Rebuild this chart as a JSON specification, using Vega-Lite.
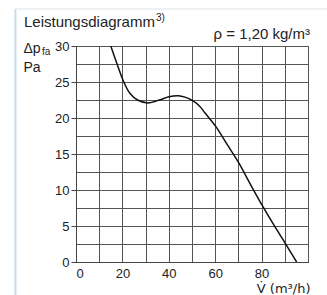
{
  "$schema": "https://vega.github.io/schema/vega-lite/v6.json",
  "width": 232,
  "height": 216,
  "autosize": "none",
  "padding": {"left": 76, "top": 46, "right": 19, "bottom": 33},
  "background": "white",
  "config": {
    "font": "Liberation Sans",
    "view": {"stroke": "#444", "strokeWidth": 1},
    "axis": {
      "grid": true,
      "gridColor": "#555",
      "gridWidth": 1,
      "gridOpacity": 1,
      "domain": true,
      "domainColor": "#444",
      "labelFontSize": 13,
      "labelColor": "#222",
      "labelOverlap": false,
      "titleFontSize": 14,
      "titleFontWeight": "normal",
      "titleColor": "#222"
    }
  },
  "layer": [
    {
      "data": {
        "values": [
          {"q": 15.0, "dp": 30},
          {"q": 17.7, "dp": 27.5},
          {"q": 20.6, "dp": 25},
          {"q": 23.3, "dp": 23.4},
          {"q": 26.5, "dp": 22.5},
          {"q": 31.0, "dp": 22.1},
          {"q": 36.0, "dp": 22.5},
          {"q": 40.0, "dp": 22.95},
          {"q": 44.1, "dp": 23.1},
          {"q": 47.0, "dp": 22.9},
          {"q": 50.3, "dp": 22.4},
          {"q": 53.4, "dp": 21.6},
          {"q": 55.6, "dp": 20.7},
          {"q": 60.3, "dp": 18.8},
          {"q": 65.0, "dp": 16.4},
          {"q": 70.3, "dp": 13.7},
          {"q": 75.0, "dp": 10.9},
          {"q": 80.2, "dp": 7.9},
          {"q": 85.0, "dp": 5.3},
          {"q": 90.2, "dp": 2.6},
          {"q": 95.1, "dp": 0}
        ]
      },
      "mark": {"type": "line", "color": "#111", "strokeWidth": 1.5, "interpolate": "catmull-rom", "clip": true},
      "encoding": {
        "x": {
          "field": "q", "type": "quantitative",
          "scale": {"domain": [0, 100], "nice": false, "zero": false},
          "axis": {
            "values": [0, 10, 20, 30, 40, 50, 60, 70, 80, 90, 100],
            "labelExpr": "datum.value % 20 == 0 && datum.value < 100 ? datum.label : ''",
            "ticks": false,
            "labelPadding": 5,
            "title": "V̇ (m³/h)",
            "titleFont": "DejaVu Sans",
            "titleFontSize": 13,
            "titleAnchor": "end",
            "titleAlign": "right",
            "titleBaseline": "alphabetic",
            "titleX": 234,
            "titleY": 30
          }
        },
        "y": {
          "field": "dp", "type": "quantitative",
          "scale": {"domain": [0, 30], "nice": false, "zero": false},
          "axis": {
            "values": [0, 2.5, 5, 7.5, 10, 12.5, 15, 17.5, 20, 22.5, 25, 27.5, 30],
            "labelExpr": "datum.value % 5 == 0 ? datum.label : ''",
            "ticks": true,
            "tickSize": 5,
            "tickColor": {"condition": {"test": "datum.value % 5 == 0", "value": "#444"}, "value": "transparent"},
            "labelPadding": 2,
            "title": ["Δp", "Pa"],
            "titleAngle": 0,
            "titleAlign": "left",
            "titleBaseline": "alphabetic",
            "titleLineHeight": 19,
            "titleX": -53,
            "titleY": 6
          }
        }
      }
    },
    {
      "data": {"values": [{"label": "fa"}]},
      "mark": {"type": "text", "fontSize": 10, "align": "left", "baseline": "alphabetic", "dx": -34, "dy": 9, "color": "#222"},
      "encoding": {
        "text": {"field": "label"},
        "x": {"datum": 0, "axis": {"values": [0, 10, 20, 30, 40, 50, 60, 70, 80, 90, 100]}},
        "y": {"datum": 30, "axis": {"values": [0, 2.5, 5, 7.5, 10, 12.5, 15, 17.5, 20, 22.5, 25, 27.5, 30]}}
      }
    },
    {
      "data": {"values": [{"label": "Leistungsdiagramm"}]},
      "mark": {"type": "text", "fontSize": 15, "align": "left", "baseline": "alphabetic", "dx": -52, "dy": -19, "color": "#222"},
      "encoding": {
        "text": {"field": "label"},
        "x": {"datum": 0, "axis": {"values": [0, 10, 20, 30, 40, 50, 60, 70, 80, 90, 100]}},
        "y": {"datum": 30, "axis": {"values": [0, 2.5, 5, 7.5, 10, 12.5, 15, 17.5, 20, 22.5, 25, 27.5, 30]}}
      }
    },
    {
      "data": {"values": [{"label": "3)"}]},
      "mark": {"type": "text", "fontSize": 10, "align": "left", "baseline": "alphabetic", "dx": 80, "dy": -25, "color": "#222"},
      "encoding": {
        "text": {"field": "label"},
        "x": {"datum": 0, "axis": {"values": [0, 10, 20, 30, 40, 50, 60, 70, 80, 90, 100]}},
        "y": {"datum": 30, "axis": {"values": [0, 2.5, 5, 7.5, 10, 12.5, 15, 17.5, 20, 22.5, 25, 27.5, 30]}}
      }
    },
    {
      "data": {"values": [{"label": "ρ = 1,20 kg/m³"}]},
      "mark": {"type": "text", "fontSize": 15, "align": "right", "baseline": "alphabetic", "dx": 2, "dy": -7, "color": "#222"},
      "encoding": {
        "text": {"field": "label"},
        "x": {"datum": 100, "axis": {"values": [0, 10, 20, 30, 40, 50, 60, 70, 80, 90, 100]}},
        "y": {"datum": 30, "axis": {"values": [0, 2.5, 5, 7.5, 10, 12.5, 15, 17.5, 20, 22.5, 25, 27.5, 30]}}
      }
    },
    {
      "data": {"values": [{}]},
      "mark": {"type": "rule", "color": "#c6dcee", "strokeWidth": 2},
      "encoding": {
        "x": {"datum": -26.1, "axis": {"values": [0, 10, 20, 30, 40, 50, 60, 70, 80, 90, 100]}},
        "y": {"datum": 35.14, "axis": {"values": [0, 2.5, 5, 7.5, 10, 12.5, 15, 17.5, 20, 22.5, 25, 27.5, 30]}},
        "y2": {"datum": -4.6}
      }
    },
    {
      "data": {"values": [{}]},
      "mark": {"type": "rule", "color": "#dbe3ea", "strokeWidth": 1},
      "encoding": {
        "x": {"datum": -26.1, "axis": {"values": [0, 10, 20, 30, 40, 50, 60, 70, 80, 90, 100]}},
        "x2": {"datum": 108.5},
        "y": {"datum": 35.14, "axis": {"values": [0, 2.5, 5, 7.5, 10, 12.5, 15, 17.5, 20, 22.5, 25, 27.5, 30]}}
      }
    }
  ]
}
